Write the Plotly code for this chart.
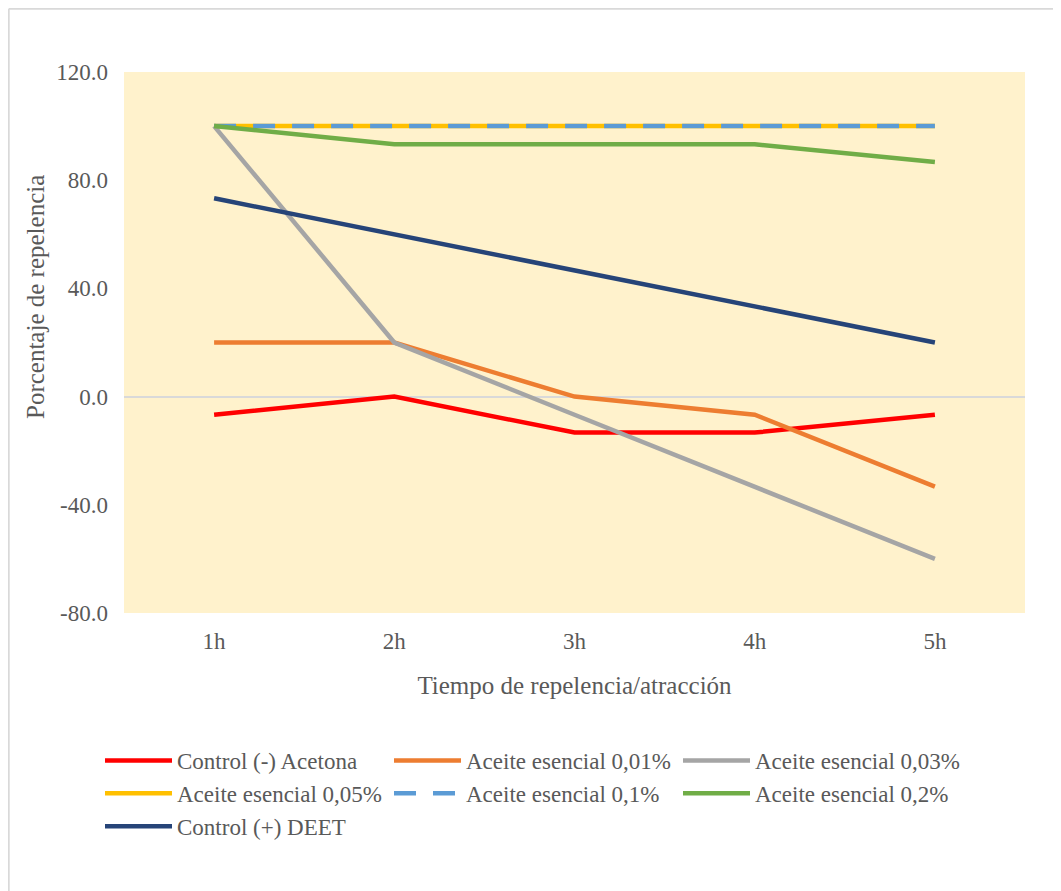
import plotly.graph_objects as go

categories = ["1h", "2h", "3h", "4h", "5h"]
control_neg = [-6.7, 0.0, -13.3, -13.3, -6.7]
aceite_001 = [20.0, 20.0, 0.0, -6.7, -33.3]
aceite_003 = [100.0, 20.0, -6.7, -33.3, -60.0]
aceite_005 = [100.0, 100.0, 100.0, 100.0, 100.0]
aceite_01 = [100.0, 100.0, 100.0, 100.0, 100.0]
aceite_02 = [100.0, 93.3, 93.3, 93.3, 86.7]
control_pos = [73.3, 60.0, 46.7, 33.3, 20.0]
y_ticks = [-80, -40, 0, 40, 80, 120]
y_tick_labels = ["-80.0", "-40.0", "0.0", "40.0", "80.0", "120.0"]

series = [
    ("Control (-) Acetona", control_neg, "#FF0000", "solid"),
    ("Aceite esencial 0,01%", aceite_001, "#ED7D31", "solid"),
    ("Aceite esencial 0,03%", aceite_003, "#A5A5A5", "solid"),
    ("Aceite esencial 0,05%", aceite_005, "#FFC000", "solid"),
    ("Aceite esencial 0,1%", aceite_01, "#5B9BD5", "22px,17px"),
    ("Aceite esencial 0,2%", aceite_02, "#70AD47", "solid"),
    ("Control (+) DEET", control_pos, "#264478", "solid"),
]

FONT = "Liberation Serif"
GRAY = "#595959"

# page body has an 8px margin; figure coordinates are page coordinates minus 8
L, R, T, B = 116, 44, 64, 286
PW = 1061 - L - R
PH = 891 - T - B


def px(xf):
    return (xf - L) / PW


def py(yf):
    return (T + PH - yf) / PH


fig = go.Figure()
for name, vals, color, dash in series:
    fig.add_trace(go.Scatter(
        x=categories, y=vals, name=name, mode="lines",
        line=dict(color=color, width=4.5, dash=dash),
    ))

fig.update_layout(
    width=1061, height=891,
    margin=dict(l=L, r=R, t=T, b=B),
    paper_bgcolor="white",
    plot_bgcolor="#FFF2CC",
    font=dict(family=FONT, size=23, color=GRAY),
    showlegend=True,
    legend=dict(
        orientation="h", x=px(92), xanchor="left", y=py(731), yanchor="top",
        entrywidth=207, entrywidthmode="pixels", itemwidth=67,
        font=dict(family=FONT, size=23, color=GRAY),
        bgcolor="rgba(0,0,0,0)",
    ),
    xaxis=dict(
        type="category", range=[-0.5, 4.5], showgrid=False, showline=False,
        zeroline=False, ticks="", ticklabelstandoff=12,
        tickfont=dict(family=FONT, size=23, color=GRAY),
        title=dict(text="Tiempo de repelencia/atracción", font=dict(family=FONT, size=25, color=GRAY), standoff=23),
    ),
    yaxis=dict(
        range=[-80, 120], tickvals=y_ticks, ticktext=y_tick_labels,
        showgrid=False, showline=False, zeroline=True, zerolinecolor="#D9D9D9", zerolinewidth=1.5,
        ticks="", ticklabelstandoff=15,
        tickfont=dict(family=FONT, size=23, color=GRAY),
    ),
    annotations=[dict(
        text="Porcentaje de repelencia", textangle=-90, showarrow=False,
        xref="paper", yref="paper", x=px(27), y=py(289),
        xanchor="center", yanchor="middle",
        font=dict(family=FONT, size=25, color=GRAY),
    )],
    shapes=[
        dict(type="line", xref="paper", yref="paper",
             x0=px(0.8), x1=px(1061), y0=py(0.8), y1=py(0.8),
             line=dict(color="#D9D9D9", width=1.8), layer="below"),
        dict(type="line", xref="paper", yref="paper",
             x0=px(0.8), x1=px(0.8), y0=py(0.8), y1=py(891),
             line=dict(color="#D9D9D9", width=1.8), layer="below"),
    ],
)

fig.write_html("out.html")
